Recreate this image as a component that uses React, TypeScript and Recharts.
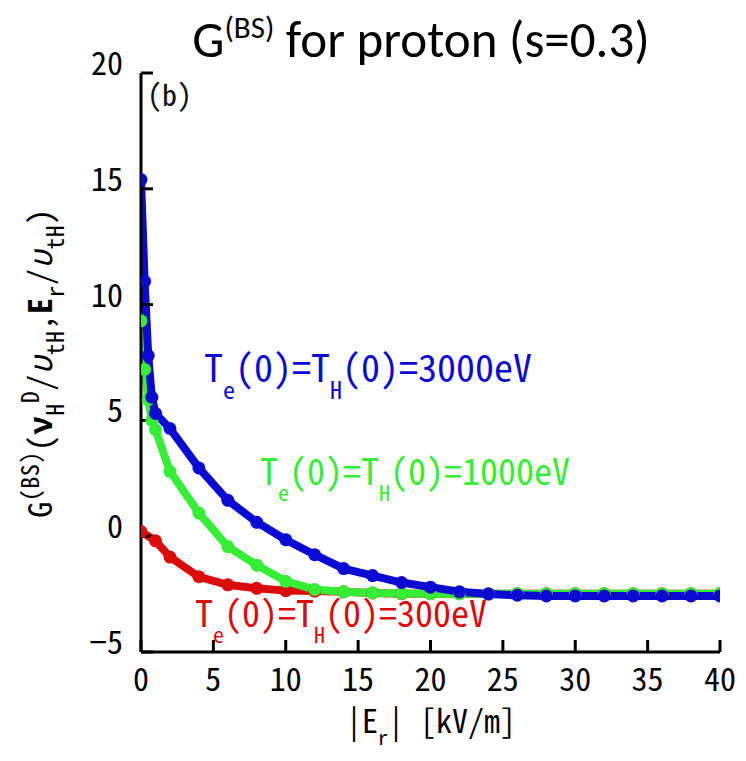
import React from "react";
import { LineChart, Line, XAxis, YAxis } from "recharts";

// |E_r| [kV/m] sample positions and G^(BS) values for each temperature case
const eField3000 = [0, 0.25, 0.5, 0.75, 1, 2, 4, 6, 8, 10, 12, 14, 16, 18, 20, 22, 24, 26, 28, 30, 32, 34, 36, 38, 40];
const g3000 = [15.4, 11.0, 7.8, 6.0, 5.3, 4.65, 2.95, 1.55, 0.6, -0.15, -0.8, -1.4, -1.7, -2.0, -2.2, -2.4, -2.5, -2.55, -2.58, -2.58, -2.58, -2.58, -2.58, -2.58, -2.58];

const eField1000 = [0, 0.25, 0.5, 0.75, 1, 2, 4, 6, 8, 10, 12, 14, 16, 18, 20, 22, 24, 26, 28, 30, 32, 34, 36, 38, 40];
const g1000 = [9.3, 7.2, 5.9, 5.0, 4.6, 2.8, 1.0, -0.45, -1.25, -1.95, -2.3, -2.4, -2.45, -2.47, -2.48, -2.48, -2.48, -2.48, -2.48, -2.48, -2.48, -2.48, -2.48, -2.48, -2.48];

const eField300 = [0, 1, 2, 4, 6, 8, 10, 12, 14, 16, 18, 20, 22, 24, 26, 28, 30, 32, 34, 36, 38, 40];
const g300 = [0.2, -0.2, -0.9, -1.75, -2.1, -2.25, -2.35, -2.37, -2.4, -2.45, -2.48, -2.48, -2.48, -2.48, -2.48, -2.48, -2.48, -2.48, -2.48, -2.48, -2.48, -2.48];

const xTickLabels = [0, 5, 10, 15, 20, 25, 30, 35, 40];
const yTickLabels = [-5, 0, 5, 10, 15, 20];

const xMinorTicks = Array.from({ length: 41 }, (_, i) => i);
const yMinorTicks = Array.from({ length: 26 }, (_, i) => i - 5);

const toPoints = (xs: number[], ys: number[]) => xs.map((x, i) => ({ x, y: ys[i] }));
const data3000 = toPoints(eField3000, g3000);
const data1000 = toPoints(eField1000, g1000);
const data300 = toPoints(eField300, g300);

const BLUE = "#0a0ad2";
const GREEN = "#36ee36";
const RED = "#dc0a0a";
const MONO = "'Noto Sans Mono CJK JP', 'Noto Sans Mono CJK SC', 'DejaVu Sans Mono', monospace";
const TITLE_FONT = "Carlito, Lato, 'Open Sans', sans-serif";
const TICK_COLOR = "#000";

const W = 730;
const H = 745;

const MINOR = 7;
const MAJOR = 12;
const fmt = (v: number) => (v < 0 ? "\u2212" + Math.abs(v) : String(v));

const NoLabel = () => <g />;

const BottomLabel = (p: any) => (
  <text x={p.x} y={p.y + 39} textAnchor="middle" fontFamily={MONO} fontSize={32} fill="#000">
    {fmt(p.payload.value)}
  </text>
);

const LeftLabel = (p: any) => (
  <text x={p.x - 18} y={p.y + 2} textAnchor="end" fontFamily={MONO} fontSize={32} fill="#000">
    {fmt(p.payload.value)}
  </text>
);

const Annotation = ({ x, y, color, size, value }: { x: number; y: number; color: string; size: number; value: string }) => {
  const sub = Math.round(size * 0.62);
  const shift = Math.round(size * 0.45);
  return (
    <text x={x} y={y} fontFamily={MONO} fontSize={size} fill={color}>
      <tspan>T</tspan>
      <tspan fontSize={sub} dy={shift}>e</tspan>
      <tspan dy={-shift}>(0)=T</tspan>
      <tspan fontSize={sub} dy={shift}>H</tspan>
      <tspan dy={-shift}>{"(0)=" + value}</tspan>
    </text>
  );
};

const Overlay = () => (
  <svg width={W} height={H} style={{ position: "absolute", left: 0, top: 0, pointerEvents: "none" }}>
    <text x={413} y={49} textAnchor="middle" fontFamily={TITLE_FONT} fontSize={51} fill="#000">
      <tspan>G</tspan>
      <tspan fontSize={31} dy={-19}>(BS)</tspan>
      <tspan dy={19}> for proton (s=0.3)</tspan>
    </text>
    <text x={139} y={98} fontFamily={MONO} fontSize={30} fill="#111">(b)</text>
    <Annotation x={196} y={374} color={BLUE} size={38} value="3000eV" />
    <Annotation x={252} y={477} color={GREEN} size={36} value="1000eV" />
    <Annotation x={187} y={619} color={RED} size={36} value="300eV" />
    <text x={423} y={725} textAnchor="middle" fontFamily={MONO} fontSize={32} fill="#000">
      <tspan>|E</tspan>
      <tspan fontSize={20} dy={12}>r</tspan>
      <tspan dy={-12}>| [kV/m]</tspan>
    </text>
    <text
      x={0}
      y={0}
      transform="translate(44,355) rotate(-90)"
      textAnchor="middle"
      fontFamily={MONO}
      fontSize={32}
      letterSpacing={0.5}
      fill="#000"
    >
      <tspan>G</tspan>
      <tspan fontSize={24} dy={-13}>(BS)</tspan>
      <tspan dy={13}>(</tspan>
      <tspan fontWeight="bold">ν</tspan>
      <tspan fontSize={24} dy={12}>H</tspan>
      <tspan fontSize={24} dy={-25}>D</tspan>
      <tspan dy={13}>/</tspan>
      <tspan fontStyle="italic">υ</tspan>
      <tspan fontSize={24} dy={12}>tH</tspan>
      <tspan dy={-12}>,</tspan>
      <tspan fontWeight="bold">E</tspan>
      <tspan fontSize={24} dy={12}>r</tspan>
      <tspan dy={-12}>/</tspan>
      <tspan fontStyle="italic">υ</tspan>
      <tspan fontSize={24} dy={12}>tH</tspan>
      <tspan dy={-12}>)</tspan>
    </text>
  </svg>
);

const axisLine = { stroke: "#000", strokeWidth: 3 };
const minorLine = { stroke: TICK_COLOR, strokeWidth: 2.5 };
const majorLine = { stroke: TICK_COLOR, strokeWidth: 3 };

const xCommon = { type: "number" as const, dataKey: "x", domain: [0, 40], allowDataOverflow: true, interval: 0 as const };
const yCommon = { type: "number" as const, domain: [-5, 20], allowDataOverflow: true, interval: 0 as const };

export default function App() {
  return (
    <div style={{ position: "relative", width: W, height: H, background: "#fff" }}>
      <LineChart width={W} height={H} margin={{ top: 65, right: 18, bottom: 0, left: 0 }}>
        <XAxis {...xCommon} xAxisId="xMin" ticks={xMinorTicks} tickSize={-MINOR} tickMargin={0}
          tickLine={minorLine} tick={<NoLabel />} height={0} axisLine={false} />
        <XAxis {...xCommon} xAxisId="x" ticks={xTickLabels} tickSize={-MAJOR} tickMargin={MAJOR}
          tickLine={majorLine} tick={<BottomLabel />} height={101} axisLine={axisLine} />
        <XAxis {...xCommon} xAxisId="xTopMin" orientation="top" ticks={xMinorTicks} tickSize={-MINOR} tickMargin={0}
          tickLine={minorLine} tick={<NoLabel />} height={0} axisLine={false} />
        <XAxis {...xCommon} xAxisId="xTop" orientation="top" ticks={xTickLabels} tickSize={-MAJOR} tickMargin={0}
          tickLine={majorLine} tick={<NoLabel />} height={0} axisLine={axisLine} />
        <YAxis {...yCommon} yAxisId="yMin" ticks={yMinorTicks} tickSize={-MINOR} tickMargin={0}
          tickLine={minorLine} tick={<NoLabel />} width={0} axisLine={false} />
        <YAxis {...yCommon} yAxisId="y" ticks={yTickLabels} tickSize={-MAJOR} tickMargin={MAJOR}
          tickLine={majorLine} tick={<LeftLabel />} width={133} axisLine={axisLine} />
        <YAxis {...yCommon} yAxisId="yRightMin" orientation="right" ticks={yMinorTicks} tickSize={-MINOR} tickMargin={0}
          tickLine={minorLine} tick={<NoLabel />} width={0} axisLine={false} />
        <YAxis {...yCommon} yAxisId="yRight" orientation="right" ticks={yTickLabels} tickSize={-MAJOR} tickMargin={0}
          tickLine={majorLine} tick={<NoLabel />} width={0} axisLine={axisLine} />
        <Line xAxisId="xTopMin" yAxisId="yRightMin" data={data3000} dataKey="y" stroke="none" dot={false}
          activeDot={false} isAnimationActive={false} />
        <Line xAxisId="x" yAxisId="y" data={data300} dataKey="y" stroke={RED} strokeWidth={8}
          dot={{ r: 6.5, fill: RED, stroke: RED, strokeWidth: 0 }} activeDot={false} isAnimationActive={false} />
        <Line xAxisId="xMin" yAxisId="yMin" data={data1000} dataKey="y" stroke={GREEN} strokeWidth={8}
          dot={{ r: 6.5, fill: GREEN, stroke: GREEN, strokeWidth: 0 }} activeDot={false} isAnimationActive={false} />
        <Line xAxisId="xTop" yAxisId="yRight" data={data3000} dataKey="y" stroke={BLUE} strokeWidth={8}
          dot={{ r: 6.5, fill: BLUE, stroke: BLUE, strokeWidth: 0 }} activeDot={false} isAnimationActive={false} />
      </LineChart>
      <Overlay />
    </div>
  );
}
